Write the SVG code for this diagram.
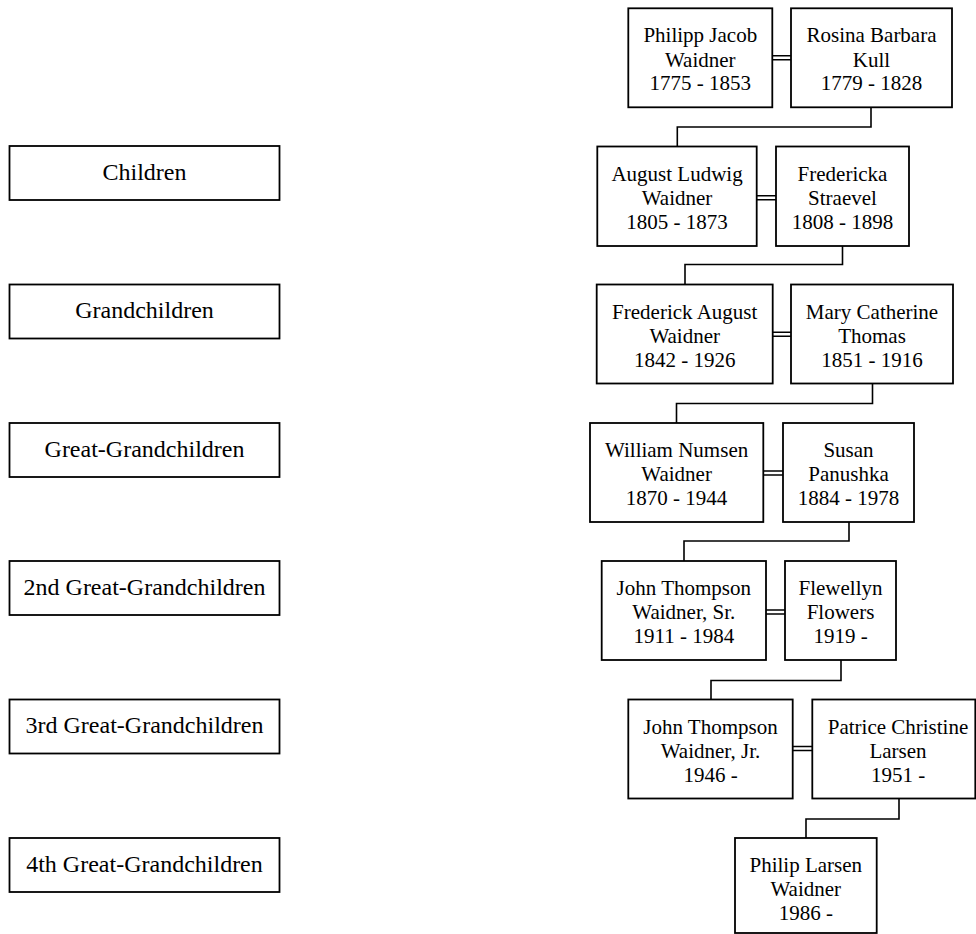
<svg xmlns="http://www.w3.org/2000/svg" width="976" height="934" viewBox="0 0 976 934">
<style>
rect{fill:#fff;stroke:#000;stroke-width:1.8}
text{fill:#000;text-anchor:middle}
.n{font-size:21px}
.l{font-size:24px}
.c path{fill:none;stroke:#000;stroke-width:1.6}
</style>
<rect x="0" y="0" width="976" height="934" style="stroke:none"/>
<g class="c" id="connectors">
<path d="M871,107.5V127H677.3V146.5"/>
<path d="M842.5,246V264.5H685V284.5"/>
<path d="M872.5,383.5V403.5H676.5V423"/>
<path d="M849,522V541H684V561"/>
<path d="M841,660V680.5H711V699.5"/>
<path d="M899,798.5V819H806V838"/>
<path d="M772,55.7H791M772,59.7H791"/>
<path d="M756.7,195.7H776M756.7,199.7H776"/>
<path d="M772.7,332.3H791M772.7,336.3H791"/>
<path d="M763.3,471H783M763.3,475H783"/>
<path d="M766,610H785M766,614H785"/>
<path d="M792.7,746.5H812M792.7,750.5H812"/>
</g>
<g font-family="'Liberation Serif', 'Times New Roman', serif">
<g id="lbl1"><rect x="9.5" y="146" width="270" height="54"/><text class="l" x="144.5" y="179.5">Children</text></g>
<g id="lbl2"><rect x="9.5" y="284.5" width="270" height="54"/><text class="l" x="144.5" y="318">Grandchildren</text></g>
<g id="lbl3"><rect x="9.5" y="423" width="270" height="54"/><text class="l" x="144.5" y="456.5">Great-Grandchildren</text></g>
<g id="lbl4"><rect x="9.5" y="561" width="270" height="54"/><text class="l" x="144.5" y="594.5">2nd Great-Grandchildren</text></g>
<g id="lbl5"><rect x="9.5" y="699.5" width="270" height="54"/><text class="l" x="144.5" y="733">3rd Great-Grandchildren</text></g>
<g id="lbl6"><rect x="9.5" y="838" width="270" height="54"/><text class="l" x="144.5" y="871.5">4th Great-Grandchildren</text></g>

<g id="philipp"><rect x="628.3" y="8.3" width="144" height="99"/><text class="n" x="700.3" y="42.3">Philipp Jacob</text><text class="n" x="700.3" y="66.5">Waidner</text><text class="n" x="700.3" y="90.3">1775 - 1853</text></g>
<g id="rosina"><rect x="791" y="8.3" width="161" height="99"/><text class="n" x="871.5" y="42.3">Rosina Barbara</text><text class="n" x="871.5" y="66.5">Kull</text><text class="n" x="871.5" y="90.3">1779 - 1828</text></g>

<g id="august"><rect x="597.3" y="146.5" width="159.4" height="99.5"/><text class="n" x="677" y="180.5">August Ludwig</text><text class="n" x="677" y="204.7">Waidner</text><text class="n" x="677" y="228.5">1805 - 1873</text></g>
<g id="fredericka"><rect x="776" y="146.5" width="133" height="99.5"/><text class="n" x="842.5" y="180.5">Fredericka</text><text class="n" x="842.5" y="204.7">Straevel</text><text class="n" x="842.5" y="228.5">1808 - 1898</text></g>

<g id="frederick"><rect x="596.7" y="284.5" width="176" height="99"/><text class="n" x="684.7" y="318.5">Frederick August</text><text class="n" x="684.7" y="342.7">Waidner</text><text class="n" x="684.7" y="366.5">1842 - 1926</text></g>
<g id="mary"><rect x="791" y="284.5" width="162" height="99"/><text class="n" x="872" y="318.5">Mary Catherine</text><text class="n" x="872" y="342.7">Thomas</text><text class="n" x="872" y="366.5">1851 - 1916</text></g>

<g id="william"><rect x="590" y="423" width="173.3" height="99"/><text class="n" x="676.6" y="457">William Numsen</text><text class="n" x="676.6" y="481.2">Waidner</text><text class="n" x="676.6" y="505">1870 - 1944</text></g>
<g id="susan"><rect x="783" y="423" width="131" height="99"/><text class="n" x="848.5" y="457">Susan</text><text class="n" x="848.5" y="481.2">Panushka</text><text class="n" x="848.5" y="505">1884 - 1978</text></g>

<g id="johnsr"><rect x="601.7" y="561" width="164.3" height="99"/><text class="n" x="683.8" y="595">John Thompson</text><text class="n" x="683.8" y="619.2">Waidner, Sr.</text><text class="n" x="683.8" y="643">1911 - 1984</text></g>
<g id="flewellyn"><rect x="785" y="561" width="111" height="99"/><text class="n" x="840.5" y="595">Flewellyn</text><text class="n" x="840.5" y="619.2">Flowers</text><text class="n" x="840.5" y="643">1919 -</text></g>

<g id="johnjr"><rect x="628.3" y="699.5" width="164.4" height="99"/><text class="n" x="710.5" y="733.5">John Thompson</text><text class="n" x="710.5" y="757.7">Waidner, Jr.</text><text class="n" x="710.5" y="781.5">1946 -</text></g>
<g id="patrice"><rect x="812.3" y="699.5" width="163" height="99"/><text class="n" x="898" y="733.5">Patrice Christine</text><text class="n" x="898" y="757.7">Larsen</text><text class="n" x="898" y="781.5">1951 -</text></g>

<g id="philip"><rect x="735" y="838" width="141.7" height="95"/><text class="n" x="805.8" y="872">Philip Larsen</text><text class="n" x="805.8" y="896">Waidner</text><text class="n" x="805.8" y="919.5">1986 -</text></g>
</g>
</svg>
